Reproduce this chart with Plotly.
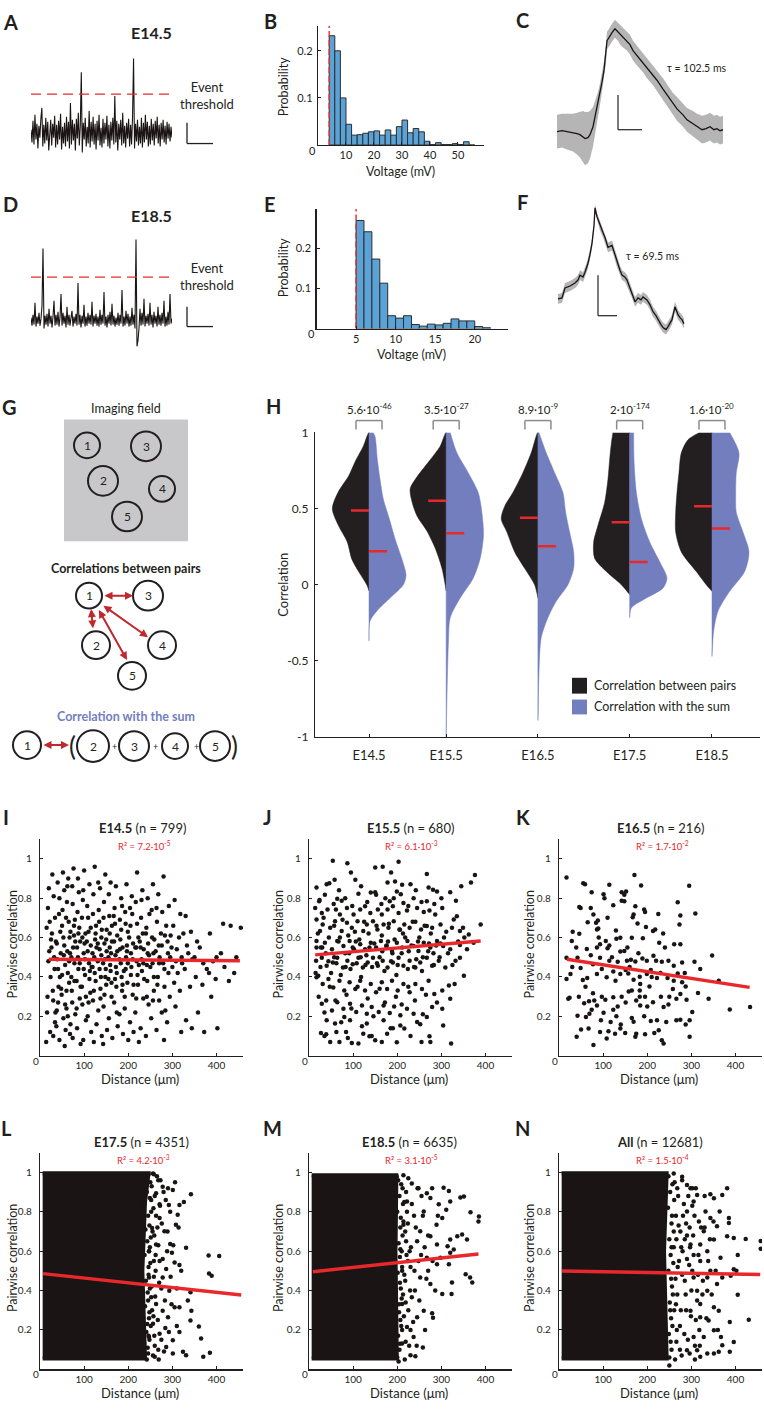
import plotly.graph_objects as go

W, H = 764, 1409
FONT = "Lato"
INK = "#231F20"
RED = "#E8282B"
DARKRED = "#C1272D"
BLUE = "#737EBE"
HISTBLUE = "#5BA3D6"
BAND = "#B5B5B5"

# ------------------------------------------------------------------ data
A_trace = [4,-9,13,-11,19,-6,10,-15,8,-4,15,26,-13,9,-10,16,-7,12,-17,6,14,-12,10,-4,18,-14,9,-11,13,-6,
           20,-16,7,-10,11,-13,17,-8,12,-15,31,-11,14,-7,10,-17,15,-5,21,-12,8,62,-19,11,-6,16,-13,7,-10,23,
           -14,12,-8,17,-11,10,-16,13,-7,19,-12,6,-14,15,-10,11,-6,18,-13,9,-15,12,-7,16,-11,38,-9,13,-17,10,
           -6,14,-12,21,-10,8,-14,11,-5,15,-13,9,-11,17,76,-15,10,-8,14,-12,7,-10,16,-14,11,-9,19,-6,12,-13,
           8,-11,15,-7,10,-12,13,-5,17,-10,9,-13,11,-6,14,-9,8,-11,12,-5,10,-8,7,-4]
A_threshold = 40
D_trace = [3,-5,6,-4,18,-6,4,-3,8,-5,2,15,73,-8,5,-4,7,-6,12,-3,5,-7,4,20,-5,6,-4,9,-6,3,
           27,-5,8,-3,5,-7,14,-4,6,-5,3,10,-6,4,-3,7,-5,38,-4,6,-7,5,-3,16,-6,4,-5,8,-3,6,
           -4,19,-6,5,-3,7,-5,4,-6,11,-4,6,-3,29,-5,4,-7,6,-3,9,-5,17,-4,5,-6,3,-4,8,-5,6,
           -3,31,-6,4,-5,10,-3,7,-6,4,-5,13,-4,6,-8,82,-26,-20,-8,12,-5,8,-4,22,-6,5,-3,7,-5,18,
           -4,6,-7,9,-3,5,-6,14,-4,6,-5,8,-3,20,-6,4,-5,9,-4,27,-3,2]
D_threshold = 44

B_centers = [5,7,9,11,13,15,17,19,21,23,25,27,29,31,33,35,37,39,41,43,45,47,49,51,53,55]
B_prob = [.232,.200,.100,.044,.021,.022,.025,.028,.030,.021,.032,.021,.039,.053,.026,.035,.028,.008,
          .001,.005,.001,.001,.003,.001,.007,.0]
B_binwidth = 2
B_threshold = 4
E_centers = [5.5,6.5,7.5,8.5,9.5,10.5,11.5,12.5,13.5,14.5,15.5,16.5,17.5,18.5,19.5,20.5,21.5]
E_prob = [.269,.241,.173,.113,.032,.026,.032,.010,.006,.011,.009,.013,.024,.019,.019,.005,.002]
E_binwidth = 1
E_threshold = 5

C_t = [0,5,10,16,20,23,26,28,31,33,36,38,41,43,45,47,49,50,52,53,55,58,61,63,66,70,73,76,80,86,
       90,96,100,106,110,116,120,126,130,136,140,145,149,153,157,160,163,166]
C_v = [33,34,33,32,31,30,28,26,27,30,38,48,60,71,83,95,112,125,128,130,133,137,134,131,128,125,121,115,110,103,
       97,90,85,76,70,61,56,50,45,41,38,35,36,38,35,36,34,35]
C_sd = [17,17,18,19,21,23,26,27,26,24,20,16,13,11,10,9,9,9,9,9,9,9,9,10,10,10,10,10,10,10,
        10,10,10,11,11,11,12,12,12,13,13,14,14,14,14,14,14,14]
F_t = [1,5,8,13,18,21,23,26,28,31,33,35,37,38,40,43,46,48,51,55,58,60,63,65,68,70,73,75,78,81,
       84,86,90,93,96,99,101,104,106,109,111,113,115,118,121,123,125,127]
F_v = [41,42,52,54,57,60,65,63,68,77,86,97,115,133,124,115,108,103,93,95,85,78,70,65,63,60,52,47,38,42,
       40,43,40,35,28,24,20,15,12,10,13,16,20,33,25,22,20,16]
F_sd = [5,5,5,5,5,5,5,5,5,5,5,5,4,4,4,5,5,5,5,5,5,5,5,5,5,5,5,5,5,5,
        5,5,5,5,5,5,5,5,5,5,5,5,5,5,5,5,5,5]

H_groups = ["E14.5", "E15.5", "E16.5", "E17.5", "E18.5"]
H_pos = [1.0, 1.9, 2.97, 4.04, 5.0]
H_pvals = ["5.6·10<sup>-46</sup>", "3.5·10<sup>-27</sup>", "8.9·10<sup>-9</sup>",
           "2·10<sup>-174</sup>", "1.6·10<sup>-20</sup>"]
H_median_pairs = [0.487, 0.552, 0.44, 0.411, 0.515]
H_median_sum = [0.22, 0.338, 0.253, 0.149, 0.37]
H_pairs_y = [
    [1, .91, .82, .71, .61, .50, .39, .28, .17, .09, 0, -.04],
    [1, .91, .82, .71, .63, .54, .45, .35, .24, .11, 0, -.04],
    [1, .866, .736, .606, .519, .433, .346, .216, .108, 0, -.087],
    [1, .931, .823, .693, .541, .39, .281, .173, .087, 0, -.065],
    [1, .952, .866, .736, .606, .476, .346, .216, .087, 0, -.043]]
H_pairs_w = [
    [0, 5.7, 13, 20.7, 30.7, 36.7, 30.7, 21.7, 17.3, 10.7, 2.3, 0],
    [0, 6, 16, 29, 36, 34, 29, 19, 11, 4.3, 1, 0],
    [0, 6.7, 15, 25, 33, 36.7, 31, 23.3, 13.3, 3.3, 0],
    [16.7, 18.3, 20, 21.7, 25, 31.7, 36, 35, 23.3, 8.3, 0],
    [12.3, 24, 30.7, 33, 35, 36.3, 36.3, 30.7, 15.7, 5.7, 0]]
H_sum_y = [
    [1, .974, .823, .693, .563, .433, .303, .173, .065, 0, -.087, -.173, -.238, -.368],
    [1, .866, .736, .606, .476, .325, .173, .043, -.087, -.216, -.368, -.584, -.887, -1],
    [1, .866, .736, .606, .476, .346, .216, .108, 0, -.108, -.216, -.346, -.584, -.823, -.89],
    [1, .823, .606, .433, .281, .152, .043, -.022, -.087, -.152, -.216],
    [1, .866, .736, .606, .476, .346, .216, .087, -.043, -.173, -.303, -.433, -.47]]
H_sum_w = [
    [4, 6, 8.3, 11, 14.3, 20.3, 26, 32.7, 37, 34.3, 21, 7.7, 1, 0],
    [4, 10.7, 22, 32, 35.7, 37.3, 34, 27, 14, 4, 2.3, 1.3, 0.3, 0],
    [1, 8.3, 16.7, 25, 27.7, 31.7, 35.7, 35.7, 30, 18.3, 10, 3.3, 1, 0.3, 0],
    [4, 4.3, 6.7, 11.7, 20, 30, 37.3, 33.3, 16.7, 1.7, 0],
    [17.7, 27, 24.3, 23.7, 24.3, 31, 37, 32.7, 17.7, 6, 1.7, 0.3, 0]]

I_pts = [(18,.75),(15,.65),(21,.53),(17,.30),(23,.12),(14,.07),(25,.59),(19,.48),
 (28,.92),(31,.81),(27,.62),(33,.44),(29,.33),(35,.22),(30,.10),(26,.55),(34,.70),
 (40,.88),(43,.72),(38,.57),(45,.40),(41,.27),(37,.15),(44,.08),(39,.49),(46,.63),(42,.35),
 (52,.93),(55,.84),(50,.66),(54,.51),(57,.46),(49,.31),(53,.19),(58,.13),(51,.74),(56,.05),
 (64,.90),(61,.78),(67,.60),(63,.42),(66,.37),(60,.24),(68,.11),(62,.53),(65,.68),(69,.16),
 (76,.95),(73,.86),(79,.69),(75,.55),(78,.47),(72,.33),(80,.21),(74,.09),(77,.61),(71,.40),
 (88,.83),(85,.73),(91,.58),(87,.44),(90,.29),(84,.14),(92,.06),(86,.50),(89,.65),(83,.38),
 (100,.94),(97,.79),(103,.62),(99,.52),(102,.41),(96,.26),(104,.18),(98,.08),(101,.57),(95,.35),
 (112,.87),(109,.70),(115,.56),(111,.47),(114,.32),(108,.20),(116,.12),(110,.63),(113,.43),(107,.76),
 (124,.96),(121,.82),(127,.66),(123,.50),(126,.38),(120,.28),(128,.16),(122,.07),(125,.59),(119,.45),
 (136,.85),(133,.74),(139,.60),(135,.54),(138,.40),(132,.23),(140,.10),(134,.68),(137,.34),(131,.48),
 (148,.92),(145,.78),(151,.64),(147,.49),(150,.36),(144,.25),(152,.13),(146,.57),(149,.44),(143,.06),
 (160,.88),(157,.71),(163,.58),(159,.46),(162,.30),(156,.19),(164,.09),(158,.62),(161,.52),(155,.39),
 (172,.86),(169,.75),(175,.61),(171,.51),(174,.42),(168,.27),(176,.15),(170,.67),(173,.35),
 (184,.80),(181,.69),(187,.55),(183,.47),(186,.33),(180,.21),(188,.11),(182,.59),(185,.40),
 (196,.87),(193,.73),(199,.63),(195,.50),(198,.37),(192,.24),(200,.08),(194,.44),(197,.56),
 (208,.81),(205,.66),(211,.57),(207,.45),(210,.31),(204,.17),(212,.12),(206,.52),(209,.72),
 (220,.93),(217,.78),(223,.60),(219,.48),(222,.36),(216,.22),(224,.07),(218,.55),(221,.41),
 (232,.84),(229,.70),(235,.54),(231,.43),(234,.29),(228,.14),(233,.62),(230,.49),
 (244,.80),(241,.65),(247,.51),(243,.38),(246,.26),(240,.10),(245,.57),(242,.46),
 (256,.87),(253,.74),(259,.59),(255,.47),(258,.33),(252,.19),(257,.52),
 (268,.82),(265,.68),(271,.50),(267,.40),(270,.28),(264,.13),(269,.56),
 (280,.91),(277,.73),(283,.61),(279,.47),(282,.35),(276,.22),(281,.08),
 (292,.76),(289,.58),(295,.50),(291,.42),(294,.30),(288,.17),
 (305,.79),(302,.66),(308,.48),(304,.37),(307,.25),
 (318,.72),(315,.60),(321,.50),(317,.33),(320,.12),
 (330,.71),(333,.56),(328,.44),(331,.18),(342,.63),(345,.49),(340,.35),(344,.14),
 (356,.58),(353,.40),(358,.22),(370,.47),(368,.36),(372,.12),(385,.62),(383,.42),(388,.30),
 (400,.50),(398,.39),(402,.14),(415,.67),(418,.45),(432,.66),(428,.38),(455,.65),
 (20,.85),(24,.40),(16,.22),(22,.68),(32,.50),(36,.58),(30,.28),(34,.17),(44,.80),(47,.52),(41,.44),(38,.23),
 (48,.34),(53,.60),(59,.70),(50,.41),(57,.26),(55,.56),(62,.86),(66,.48),(69,.63),(60,.33),(68,.52),(63,.20),
 (74,.77),(78,.38),(71,.50),(80,.58),(73,.27),(77,.66),(86,.90),(90,.47),(84,.55),(92,.35),(87,.62),(83,.24),
 (95,.70),(99,.44),(102,.49),(96,.60),(104,.30),(98,.84),(108,.53),(112,.39),(115,.65),(110,.27),(106,.58),
 (117,.45),(120,.72),(124,.42),(128,.55),(122,.33),(126,.62),(119,.52),(132,.88),(135,.44),(139,.51),(131,.57),
 (137,.29),(140,.64),(144,.70),(148,.40),(151,.53),(143,.47),(150,.59),(146,.31),(156,.82),(160,.43),(163,.66),
 (155,.50),(162,.37),(158,.55),(168,.58),(172,.45),(175,.53),(167,.71),(174,.22),(170,.39),(180,.49),(184,.64),
 (187,.36),(181,.54),(186,.76),(190,.43),(194,.67),(199,.47),(192,.30),(197,.53),(202,.60),(206,.41),(210,.49),
 (204,.75),(212,.36),(216,.55),(220,.67),(224,.46),(218,.29),(226,.58),(230,.79),(234,.47),(228,.55),(236,.39),
 (240,.62),(244,.52),(248,.72),(242,.30),(250,.45),(254,.60),(258,.40),(262,.53),(256,.28),(264,.75),(270,.47),
 (274,.62),(266,.36),(276,.56),(282,.44),(286,.66),(290,.52),(284,.23),(296,.61),(300,.45),(298,.55),(310,.54),
 (312,.42),(325,.62),(322,.47),(336,.52),(350,.50),(362,.55),(378,.44),(392,.48),(410,.52),(440,.42),(445,.50)]

J_pts = [(54,.99),(87,.977),(95,.93),(150,.955),(167,.96),(203,.985),(186,.93),(376,.918),(367,.88),(345,.86),
 (267,.923),(195,.885),(211,.868),(230,.871),(105,.893),(17,.854),(46,.876),(58,.893),
 (23,.784),(36,.817),(64,.797),(74,.787),(112,.822),(140,.829),(152,.817),(173,.80),(183,.784),(214,.775),
 (271,.854),(281,.843),(290,.834),(237,.80),(333,.787),(267,.784),(199,.834),
 (14,.75),(29,.725),(42,.742),(61,.742),(70,.717),(86,.75),(101,.717),(116,.742),(127,.759),(139,.725),
 (156,.742),(165,.717),(178,.742),(190,.759),(203,.725),(222,.737),(245,.75),(260,.73),(273,.737),(286,.717),
 (302,.75),(328,.692),(335,.708),
 (17,.692),(31,.666),(48,.65),(59,.683),(74,.633),(86,.675),(97,.65),(110,.683),(123,.633),(131,.666),
 (145,.683),(155,.641),(169,.666),(180,.65),(192,.683),(205,.641),(216,.666),(228,.65),(241,.68),(254,.641),
 (267,.658),(279,.65),(298,.666),(311,.629),(324,.65),(342,.633),(349,.65),(389,.666),(362,.616),(25,.633),
 (17,.582),(27,.549),(36,.574),(52,.54),(64,.582),(78,.557),(92,.582),(102,.54),(116,.566),(127,.54),
 (140,.574),(152,.549),(163,.582),(175,.557),(188,.532),(199,.574),(211,.549),(223,.582),(237,.557),(248,.532),
 (260,.574),(275,.549),(290,.582),(304,.557),(320,.54),(342,.562),(373,.574),(358,.54),(17,.549),
 (16,.482),(29,.498),(40,.457),(54,.473),(64,.498),(77,.448),(87,.482),(99,.465),(112,.498),(122,.448),
 (133,.473),(145,.498),(156,.457),(167,.482),(178,.448),(190,.473),(203,.498),(214,.457),(228,.482),(241,.448),
 (252,.473),(267,.498),(279,.457),(294,.482),(309,.448),(332,.482),(342,.498),(21,.406),(351,.406),(330,.364),
 (17,.398),(31,.364),(44,.389),(55,.347),(69,.381),(80,.331),(92,.373),(105,.339),(116,.381),(127,.331),
 (140,.364),(152,.322),(165,.373),(177,.339),(188,.381),(201,.331),(214,.364),(228,.322),(241,.364),(256,.339),
 (271,.381),(284,.314),(302,.331),(317,.356),
 (29,.264),(39,.28),(52,.23),(64,.272),(78,.238),(93,.264),(107,.222),(120,.255),(131,.213),(142,.247),
 (158,.222),(169,.255),(183,.217),(193,.25),(207,.205),(222,.238),(237,.213),(258,.21),(279,.247),(302,.238),(320,.289),
 (27,.116),(39,.109),(48,.07),(69,.07),(84,.121),(97,.065),(112,.062),(123,.112),(137,.099),(150,.079),
 (165,.07),(177,.112),(199,.069),(216,.138),(275,.07),(273,.099),(304,.154),(322,.062),(59,.163),(93,.18),
 (131,.163),(169,.18),(207,.154),(245,.171),(80,.196),(40,.18),(267,.196),
 (20,.62),(33,.70),(26,.45),(38,.52),(45,.60),(50,.42),(57,.66),(62,.47),(67,.58),(72,.41),(76,.69),(82,.52),
 (89,.61),(94,.44),(99,.55),(104,.63),(108,.47),(114,.59),(118,.40),(125,.68),(130,.51),(135,.62),(143,.45),
 (148,.57),(153,.66),(160,.50),(165,.61),(171,.43),(176,.56),(181,.67),(186,.48),(194,.59),(198,.41),(206,.64),
 (210,.52),(218,.60),(224,.44),(232,.56),(235,.68),(243,.49),(250,.60),(256,.43),(262,.66),(270,.53),(276,.62),
 (283,.46),(288,.56),(296,.50),(306,.60),(315,.52),(325,.46),(338,.58),(352,.60),(22,.30),(35,.22),(47,.35),
 (60,.28),(73,.17),(85,.31),(96,.24),(110,.35),(120,.15),(133,.29),(146,.20),(160,.34),(172,.27),(185,.14),
 (197,.30),(210,.26),(225,.35),(240,.28),(252,.16),(265,.31),(290,.27),(24,.79),(40,.87),(56,.77),(68,.84),
 (82,.80),(98,.76),(118,.86),(132,.78),(150,.83),(164,.77),(178,.88),(192,.80),(208,.82),(225,.76),(242,.84),
 (255,.78),(284,.77),(300,.80),(320,.83),(15,.42),(30,.55),(44,.48),(57,.50),(70,.60),(83,.45),(91,.52),
 (106,.58),(117,.50),(128,.46),(137,.55),(154,.47),(166,.53),(179,.58),(189,.52),(201,.46),(213,.62),(226,.53),
 (238,.45),(247,.58),(258,.50),(272,.57),(282,.52),(298,.57),(35,.10),(62,.12),(88,.09),(142,.10),(190,.14),
 (230,.10),(255,.07)]

K_pts = [(17,.905),(55,.876),(59,.871),(74,.83),(101,.82),(103,.80),(114,.868),(142,.83),(152,.834),(148,.817),
 (171,.918),(186,.864),(295,.863),
 (46,.755),(49,.75),(72,.75),(78,.717),(84,.675),(88,.686),(123,.764),(142,.787),(148,.784),(167,.703),(169,.717),
 (173,.759),(193,.742),(195,.73),(269,.779),(275,.712),(273,.666),(309,.722),
 (31,.629),(46,.619),(29,.582),(65,.678),(86,.641),(89,.646),(106,.582),(129,.636),(130,.594),(114,.56),
 (139,.599),(165,.599),(178,.671),(190,.596),(197,.653),(213,.633),(218,.641),(236,.621),(227,.574),(261,.566),(275,.566),
 (39,.549),(42,.498),(17,.498),(63,.542),(72,.51),(86,.549),(93,.566),(93,.498),(110,.546),(114,.482),
 (133,.477),(139,.529),(148,.532),(154,.482),(163,.487),(173,.478),(189,.493),(199,.482),(214,.507),(220,.482),
 (233,.477),(248,.482),(260,.457),(279,.473),(347,.509),(307,.477),
 (17,.389),(26,.415),(49,.445),(54,.384),(64,.394),(77,.465),(86,.415),(97,.44),(108,.398),(123,.428),
 (128,.381),(139,.415),(151,.435),(157,.418),(169,.386),(183,.401),(184,.364),(199,.415),(208,.435),(222,.394),
 (230,.42),(246,.394),(260,.381),(269,.418),(279,.373),(287,.351),(362,.381),
 (21,.289),(24,.294),(57,.267),(68,.277),(77,.317),(86,.255),(97,.30),(105,.284),(123,.233),(123,.297),
 (133,.25),(142,.30),(151,.27),(158,.326),(165,.331),(175,.28),(183,.331),(183,.30),(184,.255),(195,.30),
 (205,.351),(213,.272),(231,.30),(237,.247),(248,.26),(258,.339),(266,.289),(275,.314),(289,.284),(315,.319),
 (339,.289),(387,.235),(433,.247),
 (42,.203),(61,.196),(69,.213),(74,.233),(95,.18),(101,.218),(117,.171),(139,.138),(140,.159),(165,.191),
 (169,.173),(193,.20),(208,.176),(222,.18),(243,.171),(266,.18),(275,.183),(287,.158),(296,.18),(302,.222),
 (50,.133),(67,.138),(93,.121),(112,.124),(127,.112),(150,.116),(173,.096),(195,.109),(216,.116),(226,.129),
 (233,.079),(237,.062),(296,.096),(40,.096),(78,.054),(108,.087),(175,.112),
 (30,.45),(60,.35),(90,.60),(120,.50),(155,.55),(180,.52),(210,.40),(240,.55),(250,.30),(200,.25),(130,.20),
 (80,.28),(45,.30),(110,.70),(160,.45),(225,.72),(285,.42),(320,.44)]

L_pts = [(238,.97),(242,.90),(236,.84),(245,.78),(239,.71),(243,.65),(237,.58),(246,.52),(240,.45),(244,.39),
 (238,.32),(247,.26),(241,.19),(236,.13),(245,.08),(250,.95),(252,.86),(249,.62),(253,.42),(251,.22),(248,.15),
 (255,.70),(254,.30),(258,.55),(260,.12),
 (242,.05),(244,.11),(246,.17),(243,.23),(248,.29),(245,.35),(249,.41),(246,.48),(250,.54),(247,.60),(251,.67),
 (248,.73),(252,.80),(249,.87),(253,.93),(246,.99),(256,.07),(259,.17),(257,.27),(261,.37),(258,.47),(262,.58),
 (259,.68),(263,.78),(260,.88),(265,.98),(267,.25),(270,.44),(268,.63),(272,.83),(275,.15),(278,.56),(276,.74),
 (280,.90),(283,.35),(286,.51),(289,.70),(292,.19),(295,.80),(298,.33),(302,.63),(306,.95),(310,.22),(314,.72),
 (320,.50),(326,.85),(269,.05),(281,.09),(258,.99),(273,.96),
 (256,.994),(301,.91),(342,.889),(278,.927),(263,.894),(271,.838),(292,.835),(312,.785),(316,.835),(308,.734),
 (295,.637),(299,.592),(305,.542),(316,.53),(331,.617),(382,.578),(383,.486),(389,.475),(341,.391),(335,.349),
 (343,.298),(360,.218),(341,.248),(365,.156),(385,.084),(370,.064),(324,.089),(286,.114),(301,.148),(271,.181),
 (316,.189),(290,.265),(331,.072),(260,.064),(278,.466),(263,.634),(254,.718),(282,.701),(271,.768),(263,.332),
 (278,.298),(256,.231),(305,.315),(293,.399),(271,.55),(316,.315),(301,.08),(290,.919),(257,.818),(247,.6),
 (247,.466),(247,.164),(252,.366),(268,.96),(285,.86),(266,.72),(288,.60),(275,.41),(262,.50),(284,.21),
 (268,.10),(296,.47),(310,.41),(406,.575)]
M_pts = [(202,.96),(205,.88),(200,.80),(207,.72),(203,.64),(206,.57),(201,.49),(208,.41),(204,.33),(207,.25),
 (202,.17),(205,.10),(200,.06),(212,.92),(214,.75),(210,.60),(213,.38),(211,.20),(216,.85),(218,.45),(220,.65),
 (219,.14),(224,.55),(225,.30),
 (203,.04),(206,.13),(209,.22),(204,.29),(210,.36),(206,.44),(211,.52),(207,.61),(212,.68),(208,.77),(213,.84),
 (209,.94),(217,.05),(215,.27),(219,.34),(216,.48),(221,.58),(218,.70),(222,.80),(220,.90),(225,.97),(227,.12),
 (229,.40),(231,.62),(233,.84),(236,.24),(239,.50),(242,.72),(246,.92),(250,.35),(254,.58),(258,.78),(263,.20),
 (266,.46),(270,.68),(275,.87),(280,.55),(286,.40),(292,.78),(230,.20),(244,.12),(224,.74),
 (214,.986),(199,.978),(233,.944),(248,.919),(267,.894),(279,.919),(305,.922),(317,.905),(343,.872),(351,.877),
 (294,.838),(320,.852),(311,.81),(302,.768),(366,.798),(385,.776),(384,.751),(347,.684),(358,.659),(336,.676),
 (320,.659),(314,.625),(328,.609),(298,.567),(290,.533),(320,.592),(317,.533),(355,.483),(365,.466),(370,.441),
 (324,.441),(302,.382),(323,.382),(260,.298),(279,.285),(281,.262),(258,.111),(241,.067),(230,.072),(275,.676),
 (260,.801),(267,.567),(252,.466),(245,.65),(233,.366),(222,.215),(211,.131),(228,.6),(214,.734),(222,.852),
 (211,.5),(211,.332),(237,.164),(252,.701),(248,.55),(245,.265),(275,.433),(290,.634),(289,.734),(230,.52),
 (240,.40),(255,.88),(238,.78),(262,.62),(270,.50)]
N_pts = [(248,.98),(252,.90),(247,.82),(255,.74),(250,.66),(253,.58),(248,.50),(256,.42),(251,.34),(254,.26),
 (249,.18),(255,.10),(250,.06),(262,.95),(265,.78),(260,.62),(264,.46),(261,.30),(266,.14),(270,.88),(272,.55),
 (268,.38),(275,.70),(274,.22),(280,.60),(278,.07),(285,.45),(283,.84),(288,.30),(292,.15),(296,.72),(300,.40),
 (305,.58),(310,.25),(298,.92),(290,.68),(295,.53),(302,.83),(308,.12),(315,.48),(325,.38),(330,.72),(318,.20),
 (250,.02),(253,.14),(257,.22),(252,.30),(258,.38),(254,.46),(259,.54),(255,.62),(260,.70),(256,.78),(261,.86),
 (257,.94),(263,.05),(267,.20),(265,.33),(269,.52),(266,.66),(271,.73),(268,.92),(274,.10),(276,.30),(279,.48),
 (277,.62),(281,.78),(279,.96),(284,.18),(287,.38),(290,.56),(288,.74),(293,.88),(296,.08),(299,.27),(302,.50),
 (304,.68),(307,.78),(310,.92),(313,.35),(316,.58),(319,.12),(322,.72),(326,.45),(330,.88),(334,.26),(338,.55),
 (342,.66),(346,.38),(350,.75),(355,.50),(360,.20),(285,.66),(297,.62),(308,.05),
 (313,.885),(343,.889),(351,.869),(370,.885),(381,.919),(364,.801),(385,.768),(385,.743),(381,.676),(396,.667),
 (423,.662),(457,.651),(457,.612),(405,.58),(366,.567),(396,.508),(402,.5),(389,.475),(370,.466),(405,.379),
 (430,.252),(387,.24),(396,.139),(367,.164),(370,.122),(362,.089),(387,.089),(320,.064),(336,.08),(313,.097),
 (351,.198),(362,.298),(351,.315),(336,.399),(358,.433),(343,.5),(320,.55),(336,.6),(328,.701),(317,.751),
 (302,.919),(290,.936),(260,.994),(279,.978),(305,.852),(290,.801),(298,.634),(305,.466),(298,.298),(305,.164),
 (290,.097),(351,.659),(358,.726),(332,.801),(320,.332),(339,.248),(328,.164),(351,.08),(320,.265),(313,.399),
 (336,.466),(320,.634),(343,.768)]
# dense (saturated) cloud regions of the big datasets
L_block_x = [6, 246, 238, 232, 238, 6]
L_block_y = [0.995, 0.995, 0.85, 0.5, 0.055, 0.055]
M_block_x = [6, 198, 196, 199, 6]
M_block_y = [0.985, 0.985, 0.6, 0.055, 0.055]
N_block_x = [6, 244, 238, 244, 6]
N_block_y = [0.995, 0.995, 0.6, 0.055, 0.055]

scatter_names = ["E14.5", "E15.5", "E16.5", "E17.5", "E18.5", "All"]
scatter_n = [799, 680, 216, 4351, 6635, 12681]
scatter_r2 = ["7.2·10<sup>-5</sup>", "6.1·10<sup>-3</sup>", "1.7·10<sup>-2</sup>",
              "4.2·10<sup>-3</sup>", "3.1·10<sup>-5</sup>", "1.5·10<sup>-4</sup>"]
reg_x = [[20, 453], [14, 389], [18, 432], [7, 456], [9, 384], [7, 456]]
reg_y = [[0.49, 0.482], [0.512, 0.583], [0.49, 0.347], [0.486, 0.377], [0.496, 0.586], [0.499, 0.482]]

# schematic (G) layout, in panel pixel units
G_field_x = [87, 146, 103, 162, 127]; G_field_y = [442, 443, 478, 486, 514]
G_field_r = [13, 15, 15, 13, 15]; G_field_lab = ["1", "3", "2", "4", "5"]
G_pair_x = [89, 148, 96, 162, 132]; G_pair_y = [594, 594, 644, 644, 675]
G_pair_r = [13, 15, 14, 14, 14]; G_pair_lab = ["1", "3", "2", "4", "5"]
G_sum_x = [27, 93, 134, 175, 215]; G_sum_y = [745, 746, 746, 746, 746]
G_sum_r = [14, 16, 15, 13, 15]; G_sum_lab = ["1", "2", "3", "4", "5"]
G_arrows = [((103, 594), (133, 594)), ((91, 606), (93, 627)), ((102, 603), (148, 636)),
            ((98, 607), (127, 659)), ((42, 745), (69, 745))]
G_plus_x = [114, 155, 196]

# ------------------------------------------------------------------ helpers
def X(p): return p / W
def Y(p): return 1 - p / H

fig = go.Figure()
layout = dict(width=W, height=H, margin=dict(l=0, r=0, t=0, b=0), paper_bgcolor="white",
              plot_bgcolor="rgba(0,0,0,0)", showlegend=False, font=dict(family=FONT, color=INK))
shapes, annotations = [], []

def axes(n, x0, x1, y0, y1, xr, yr, visible=False):
    xa = "xaxis" if n == 1 else f"xaxis{n}"
    ya = "yaxis" if n == 1 else f"yaxis{n}"
    xs = "x" if n == 1 else f"x{n}"
    ys = "y" if n == 1 else f"y{n}"
    base = dict(showgrid=False, zeroline=False, fixedrange=True)
    if visible:
        base.update(showline=True, linecolor=INK, linewidth=1.2, ticks="inside", ticklen=3,
                    tickcolor=INK, tickwidth=1, tickfont=dict(size=10, color=INK, family=FONT))
    else:
        base.update(visible=False)
    layout[xa] = dict(base, domain=[X(x0), X(x1)], anchor=ys, range=xr)
    layout[ya] = dict(base, domain=[Y(y1), Y(y0)], anchor=xs, range=yr)
    return xs, ys, xa, ya

def txt(px, py, s, size, color=INK, xanchor="center", angle=0, yanchor="middle"):
    annotations.append(dict(x=X(px), y=Y(py), xref="paper", yref="paper", text=s, showarrow=False,
                            xanchor=xanchor, yanchor=yanchor, textangle=angle,
                            font=dict(size=size, color=color, family=FONT)))

def seg(x0, y0, x1, y1, color=INK, width=1.3):
    shapes.append(dict(type="line", xref="paper", yref="paper", x0=X(x0), y0=Y(y0), x1=X(x1), y1=Y(y1),
                       line=dict(color=color, width=width)))

def letter(px, py, s):
    txt(px, py, f"<b>{s}</b>", 20)

# ------------------------------------------------------------------ A / D traces
for n, trace, thr, box, yr, title_y, ev_y, sb in [
        (1, A_trace, A_threshold, (31, 172, 45, 150), [-23, 82], 25, 88, (116, 137)),
        (4, D_trace, D_threshold, (31, 172, 225, 345), [-29, 91], 210, 271, (302, 322))]:
    xs, ys, _, _ = axes(n, box[0], box[1], box[2], box[3], [0, len(trace) - 1], yr)
    idx = list(range(len(trace)))
    fig.add_trace(go.Scatter(x=idx, y=trace, mode="lines", line=dict(color="#1A1414", width=1.1),
                             xaxis=xs, yaxis=ys, hoverinfo="skip"))
    fig.add_trace(go.Scatter(x=[0, len(trace) - 1], y=[thr, thr], mode="lines",
                             line=dict(color=RED, width=1.3, dash="10px,6px"),
                             xaxis=xs, yaxis=ys, hoverinfo="skip"))
    txt(151, title_y, "<b>" + ("E14.5" if n == 1 else "E18.5") + "</b>", 16)
    txt(178, ev_y, "Event<br>threshold", 13, xanchor="left")
    seg(187, sb[0], 187, sb[1]); seg(187, sb[1], 213, sb[1])

letter(10, 14, "A"); letter(10, 198, "D")

# ------------------------------------------------------------------ B / E histograms
for n, cen, prob, bw, thr, box, xr, yr, xt, ylab_y, xlab, zero in [
        (2, B_centers, B_prob, B_binwidth, B_threshold, (318, 484, 18, 138.5), [0, 59.3], [0, 0.253],
         [10, 20, 30, 40, 50], 80, (400, 165), (312, 144)),
        (5, E_centers, E_prob, E_binwidth, E_threshold, (316.5, 508, 203, 324), [0, 24.2], [0, 0.298],
         [5, 10, 15, 20], 263, (412, 350), (311, 329))]:
    xs, ys, xa, ya = axes(n, box[0], box[1], box[2], box[3], xr, yr, visible=True)
    layout[xa].update(tickvals=xt, tickfont=dict(size=11, color=INK, family=FONT))
    layout[ya].update(tickvals=[0.1, 0.2], ticktext=["0.1", "0.2"], ticklabelstandoff=2,
                      tickfont=dict(size=11, color=INK, family=FONT))
    fig.add_trace(go.Bar(x=cen, y=prob, width=bw, marker=dict(color=HISTBLUE, line=dict(color="#2E2E2E", width=1)),
                         xaxis=xs, yaxis=ys, hoverinfo="skip"))
    fig.add_trace(go.Scatter(x=[thr, thr], y=[0, yr[1]], mode="lines",
                             line=dict(color=RED, width=1.4, dash="6px,3px"),
                             xaxis=xs, yaxis=ys, hoverinfo="skip"))
    txt(283, ylab_y, "Probability", 12.5, angle=-90)
    txt(xlab[0], xlab[1], "Voltage (mV)", 12.5)
    txt(zero[0], zero[1], "0", 11)

layout["bargap"] = 0
letter(270, 13, "B"); letter(270, 198, "E")

# ------------------------------------------------------------------ C / F averaged events
for n, t, v, sd, box, xr, yr, tau, sbx, sby in [
        (3, C_t, C_v, C_sd, (557, 723, 12, 160), [0, 166], [-2, 146], ("τ = 102.5 ms", 697, 61), (618, 642), (88, 123)),
        (6, F_t, F_v, F_sd, (557, 685, 195, 335), [0, 128], [0, 140], ("τ = 69.5 ms", 652, 251), (598, 617), (270, 311))]:
    xs, ys, _, _ = axes(n, box[0], box[1], box[2], box[3], xr, yr)
    upper = [a + b for a, b in zip(v, sd)]
    lower = [a - b for a, b in zip(v, sd)]
    fig.add_trace(go.Scatter(x=t + t[::-1], y=upper + lower[::-1], fill="toself", fillcolor=BAND,
                             line=dict(width=0), mode="lines", xaxis=xs, yaxis=ys, hoverinfo="skip"))
    fig.add_trace(go.Scatter(x=t, y=v, mode="lines", line=dict(color="#1A1414", width=1.3),
                             xaxis=xs, yaxis=ys, hoverinfo="skip"))
    txt(tau[1], tau[2], tau[0], 10.5)
    seg(sbx[0], sby[0], sbx[0], sby[1], color="#333333"); seg(sbx[0], sby[1], sbx[1], sby[1], color="#333333")

letter(522, 12, "C"); letter(522, 196, "F")

# ------------------------------------------------------------------ G schematic
xsG, ysG, _, _ = axes(7, 0, 265, 390, 770, [0, 265], [770, 390])
shapes.append(dict(type="rect", xref=xsG, yref=ysG, x0=64, x1=188, y0=416, y1=539,
                   fillcolor="#C8C8CA", line=dict(width=0), layer="below"))
for cx, cy, cr, lab in [*zip(G_field_x, G_field_y, G_field_r, G_field_lab),
                         *zip(G_pair_x, G_pair_y, G_pair_r, G_pair_lab),
                         *zip(G_sum_x, G_sum_y, G_sum_r, G_sum_lab)]:
    shapes.append(dict(type="circle", xref=xsG, yref=ysG, x0=cx - cr, x1=cx + cr, y0=cy - cr, y1=cy + cr,
                       line=dict(color=INK, width=2)))
    annotations.append(dict(x=cx, y=cy, xref=xsG, yref=ysG, text=lab, showarrow=False,
                            font=dict(size=12, color=INK, family=FONT)))
for (x0, y0), (x1, y1) in G_arrows:
    annotations.append(dict(x=x1, y=y1, ax=x0, ay=y0, xref=xsG, yref=ysG, axref=xsG, ayref=ysG, text="",
                            showarrow=True, arrowhead=2, arrowside="end+start", arrowsize=0.8,
                            arrowwidth=2, arrowcolor=DARKRED, standoff=0, startstandoff=0))
for px_ in G_plus_x:
    annotations.append(dict(x=px_, y=746, xref=xsG, yref=ysG, text="+", showarrow=False,
                            font=dict(size=9, color=INK, family=FONT)))
annotations.append(dict(x=72, y=746, xref=xsG, yref=ysG, text="(", showarrow=False,
                        font=dict(size=26, color=INK, family=FONT)))
annotations.append(dict(x=234, y=746, xref=xsG, yref=ysG, text=")", showarrow=False,
                        font=dict(size=26, color=INK, family=FONT)))
txt(126, 405, "Imaging field", 12.5)
txt(126, 567, "<b>Correlations between pairs</b>", 12.5)
txt(126, 716, "<b>Correlation with the sum</b>", 12.5, color=BLUE)
letter(9, 403, "G")

# ------------------------------------------------------------------ H split violins
xsH, ysH, xaH, yaH = axes(8, 315, 760, 429, 737, [0.37, 5.56], [-1, 1], visible=True)
layout[xaH].update(tickvals=H_pos, ticktext=H_groups, tickfont=dict(size=13, color=INK, family=FONT),
                   ticklabelstandoff=6)
layout[yaH].update(tickvals=[-1, -0.5, 0, 0.5, 1], ticktext=["-1", "-0.5", "0", "0.5", "1"],
                   tickfont=dict(size=12, color=INK, family=FONT), ticklabelstandoff=3)
VSCALE = 1 / 85.75
for g, pos in enumerate(H_pos):
    yl, wl = H_pairs_y[g], H_pairs_w[g]
    fig.add_trace(go.Scatter(x=[pos - w * VSCALE for w in wl] + [pos, pos], y=yl + [yl[-1], yl[0]],
                             fill="toself", fillcolor=INK, line=dict(color=INK, width=0.5, shape="spline", smoothing=0.8),
                             mode="lines", xaxis=xsH, yaxis=ysH, hoverinfo="skip"))
    yr_, wr = H_sum_y[g], H_sum_w[g]
    fig.add_trace(go.Scatter(x=[pos + w * VSCALE for w in wr] + [pos, pos], y=yr_ + [yr_[-1], yr_[0]],
                             fill="toself", fillcolor=BLUE, line=dict(color=BLUE, width=0.5, shape="spline", smoothing=0.8),
                             mode="lines", xaxis=xsH, yaxis=ysH, hoverinfo="skip"))
mx, my = [], []
for g, pos in enumerate(H_pos):
    mx += [pos - 0.21, pos, None, pos, pos + 0.21, None]
    my += [H_median_pairs[g], H_median_pairs[g], None, H_median_sum[g], H_median_sum[g], None]
fig.add_trace(go.Scatter(x=mx, y=my, mode="lines", line=dict(color=RED, width=2.5),
                         xaxis=xsH, yaxis=ysH, hoverinfo="skip"))
for g, pos in enumerate(H_pos):
    hw = 13 * VSCALE
    for (a, b, c, d) in [(pos - hw, 417, pos + hw, 417), (pos - hw, 417, pos - hw, 426), (pos + hw, 417, pos + hw, 426)]:
        shapes.append(dict(type="line", xref=xsH, yref="paper", x0=a, x1=c, y0=Y(b), y1=Y(d),
                           line=dict(color="#8C8C8C", width=1.5)))
    annotations.append(dict(x=pos, y=Y(414), xref=xsH, yref="paper", text=H_pvals[g], showarrow=False,
                            yanchor="bottom", font=dict(size=11.5, color=INK, family=FONT)))
txt(283, 583, "Correlation", 13, angle=-90)
shapes.append(dict(type="rect", xref="paper", yref="paper", x0=X(572), x1=X(587), y0=Y(693), y1=Y(677),
                   fillcolor=INK, line=dict(width=0)))
shapes.append(dict(type="rect", xref="paper", yref="paper", x0=X(572), x1=X(587), y0=Y(714), y1=Y(699),
                   fillcolor=BLUE, line=dict(width=0)))
txt(592, 685, "Correlation between pairs", 12.5, xanchor="left")
txt(592, 706, "Correlation with the sum", 12.5, xanchor="left")
letter(273, 402, "H")

# ------------------------------------------------------------------ I–N scatter panels
panel_pts = [I_pts, J_pts, K_pts, L_pts, M_pts, N_pts]
blocks = [None, None, None, (L_block_x, L_block_y), (M_block_x, M_block_y), (N_block_x, N_block_y)]
col_x0 = [40, 309, 559]
row_y = [(840, 1059), (1157, 1376)]
title_cx = [142, 410, 660, 141, 409, 660]
ylab_x = [12, 278, 529]
letters = ["I", "J", "K", "L", "M", "N"]
letter_xy = [(6, 818), (267, 818), (523, 818), (7, 1132), (272, 1132), (522, 1132)]
for k in range(6):
    col, row = k % 3, k // 3
    x0 = col_x0[col]; y0, y1 = row_y[row]
    xs, ys, xa, ya = axes(9 + k, x0, x0 + 203, y0, y1, [0, 460], [0, 1.1], visible=True)
    layout[xa].update(tickvals=[100, 200, 300, 400])
    layout[ya].update(tickvals=[0.2, 0.4, 0.6, 0.8, 1], ticktext=["0.2", "0.4", "0.6", "0.8", "1"],
                      ticklabelstandoff=5)
    if blocks[k] is not None:
        bx, by = blocks[k]
        fig.add_trace(go.Scatter(x=bx, y=by, fill="toself", fillcolor="#1A1414", mode="lines",
                                 line=dict(color="#1A1414", width=4), xaxis=xs, yaxis=ys, hoverinfo="skip"))
    pts = panel_pts[k]
    fig.add_trace(go.Scatter(x=[p[0] for p in pts], y=[p[1] for p in pts], mode="markers",
                             marker=dict(color="#1A1414", size=4.5), xaxis=xs, yaxis=ys, hoverinfo="skip"))
    fig.add_trace(go.Scatter(x=reg_x[k], y=reg_y[k], mode="lines", line=dict(color=RED, width=3.5),
                             xaxis=xs, yaxis=ys, hoverinfo="skip"))
    txt(title_cx[k], y0 - 11, f"<b>{scatter_names[k]}</b> (n = {scatter_n[k]})", 13)
    txt(title_cx[k] + 2, y0 + 7, f"R² = {scatter_r2[k]}", 9.5, color=RED)
    txt(ylab_x[col], (y0 + y1) / 2 - 3, "Pairwise correlation", 12.5, angle=-90)
    txt(x0 + 100, y1 + 24, "Distance (μm)", 13)
    txt(x0 - 4, y1 + 5, "0", 10)
    letter(letter_xy[k][0], letter_xy[k][1], letters[k])

layout["shapes"] = shapes
layout["annotations"] = annotations
fig.update_layout(**layout)
fig.write_html("out.html", config={"displayModeBar": False, "staticPlot": True},
               post_script="document.body.style.margin='0px';document.body.style.padding='0px';")
